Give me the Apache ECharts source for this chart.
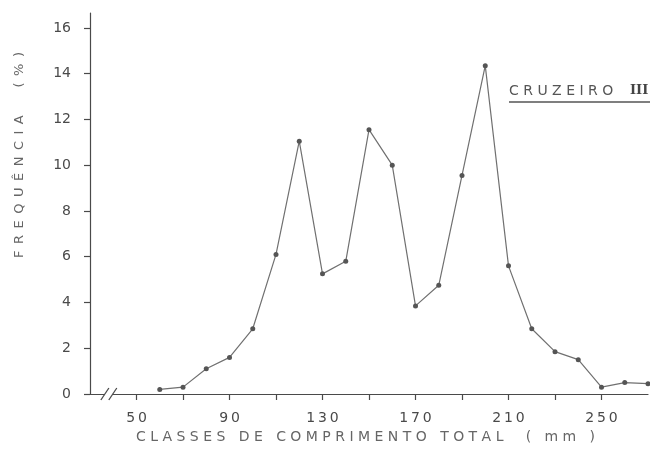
<!DOCTYPE html>
<html>
<head>
<meta charset="utf-8">
<script src="https://cdn.jsdelivr.net/npm/echarts@6/dist/echarts.min.js"></script>
<style>
  html, body { margin: 0; padding: 0; background: #fff; }
  #chart { width: 650px; height: 451px; }
</style>
</head>
<body>
<div id="chart"></div>
<script>
// Length classes (mm) and frequency (%) for the Cruzeiro III sample
const classes = [60, 70, 80, 90, 100, 110, 120, 130, 140, 150, 160,
                 170, 180, 190, 200, 210, 220, 230, 240, 250, 260, 270];
const frequency = [0.2, 0.3, 1.1, 1.6, 2.85, 6.1, 11.05, 5.25, 5.8, 11.55, 10.0,
                   3.85, 4.75, 9.55, 14.35, 5.6, 2.85, 1.85, 1.5, 0.3, 0.5, 0.45];
const xTickValues = [50, 70, 90, 110, 130, 150, 170, 190, 210, 230, 250];
const xLabelValues = [50, 90, 130, 170, 210, 250];
const yTickValues = [0, 2, 4, 6, 8, 10, 12, 14, 16];

const xTitle = 'CLASSES DE COMPRIMENTO TOTAL  ( mm )';
const yTitle = 'FREQUÊNCIA  (%)';
const sampleName = 'CRUZEIRO';
const sampleNumeral = 'III';

// spread letters out like stencil lettering
const spread = (s, gap) => s.split('').join(gap || ' ');
const thin = s => String(s).split('').join('\u2009');

const ink = '#4a4a4a';
const lineInk = '#707070';
const font = 'DejaVu Sans';

const chart = echarts.init(document.getElementById('chart'), null, { renderer: 'canvas' });

chart.setOption({
  animation: false,
  backgroundColor: '#fff',
  grid: { left: 90, right: 2, top: 13, bottom: 57, containLabel: false },
  xAxis: {
    type: 'value',
    min: 30,
    max: 270,
    axisLine: { show: true, lineStyle: { color: ink, width: 1.2 } },
    axisTick: { show: true, inside: false, length: 6, customValues: xTickValues,
                lineStyle: { color: ink, width: 1.2 } },
    axisLabel: { customValues: xLabelValues, margin: 17, color: ink, fontFamily: font,
                 fontSize: 14, formatter: v => thin(v) },
    splitLine: { show: false }
  },
  yAxis: {
    type: 'value',
    min: 0,
    max: 16.65,
    axisLine: { show: true, lineStyle: { color: ink, width: 1.2 } },
    axisTick: { show: true, length: 6, customValues: yTickValues,
                lineStyle: { color: ink, width: 1.2 } },
    axisLabel: { customValues: yTickValues, margin: 19, color: ink, fontFamily: font,
                 fontSize: 14 },
    splitLine: { show: false }
  },
  series: [{
    type: 'line',
    data: classes.map((c, i) => [c, frequency[i]]),
    symbol: 'circle',
    symbolSize: 5,
    showSymbol: true,
    lineStyle: { color: lineInk, width: 1.2 },
    itemStyle: { color: '#555' },
    z: 3
  }]
});

function drawDecor() {
  const p0 = chart.convertToPixel({ xAxisIndex: 0, yAxisIndex: 0 }, [36.4, 0]);
  const p1 = chart.convertToPixel({ xAxisIndex: 0, yAxisIndex: 0 }, [39.8, 0]);
  const ax = p0[1];
  chart.setOption({
    graphic: [
      // axis break marks
      { type: 'rect', shape: { x: p0[0], y: ax - 2, width: p1[0] - p0[0], height: 4 },
        style: { fill: '#fff' }, z: 10 },
      { type: 'line', shape: { x1: p0[0] - 4, y1: ax + 6, x2: p0[0] + 4, y2: ax - 6 },
        style: { stroke: ink, lineWidth: 1.3 }, z: 11 },
      { type: 'line', shape: { x1: p1[0] - 4, y1: ax + 6, x2: p1[0] + 4, y2: ax - 6 },
        style: { stroke: ink, lineWidth: 1.3 }, z: 11 },
      // axis titles
      { type: 'text', left: 136, top: 430,
        style: { text: spread(xTitle), font: '14px "DejaVu Sans"', fill: '#666' }, z: 5 },
      { type: 'text', x: 20, y: 155, rotation: Math.PI / 2,
        style: { text: spread(yTitle, '\u2002'), font: '13px "DejaVu Sans"', fill: '#666',
                 align: 'center', verticalAlign: 'middle' }, z: 5 },
      // sample label
      { type: 'text', x: 509, y: 91,
        style: { text: spread(sampleName), font: '14px "DejaVu Sans"', fill: '#555',
                 verticalAlign: 'middle' }, z: 5 },
      { type: 'text', x: 630, y: 91,
        style: { text: sampleNumeral, font: 'bold 13px "DejaVu Serif"', fill: '#444',
                 verticalAlign: 'middle' }, z: 5 },
      { type: 'line', shape: { x1: 509, y1: 102, x2: 650, y2: 102 },
        style: { stroke: '#555', lineWidth: 1.3 }, z: 5 }
    ]
  });
}
drawDecor();
</script>
</body>
</html>
